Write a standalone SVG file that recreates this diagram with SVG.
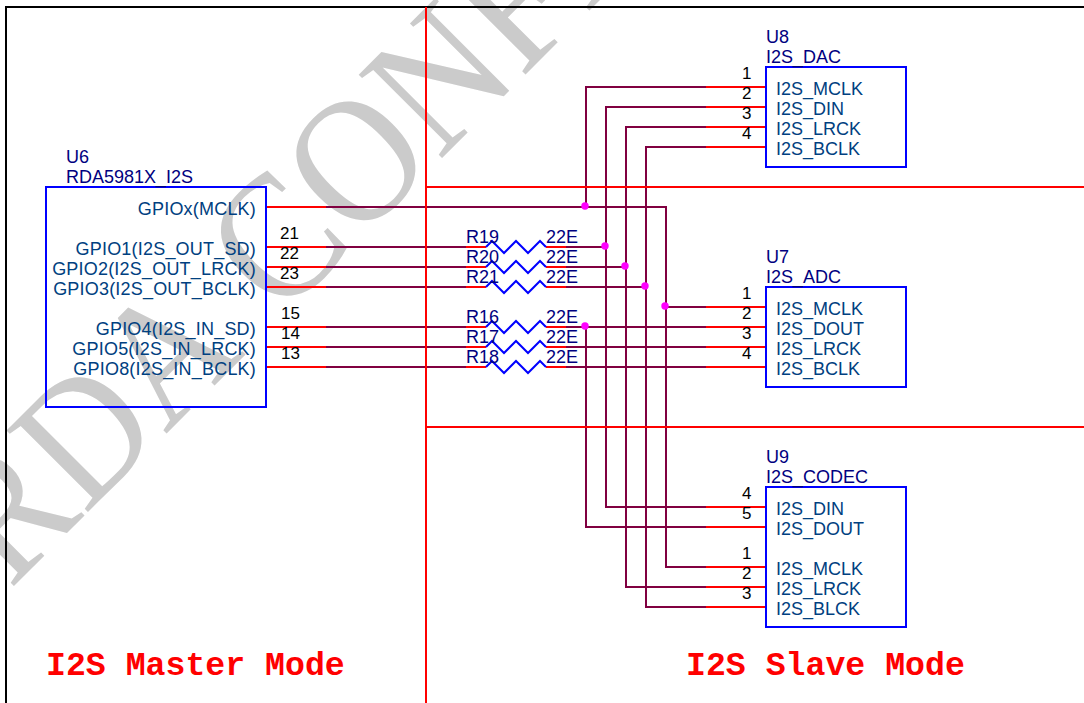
<svg xmlns="http://www.w3.org/2000/svg" width="1084" height="703" viewBox="0 0 1084 703">
<style>
text{font-family:"Liberation Sans",Arial,sans-serif;font-size:18px}
.wm{font-family:"Liberation Serif","Times New Roman",serif;font-size:176px;fill:#cbcbcb}
.title{font-family:"Liberation Mono","Courier New",monospace;font-size:33.2px;font-weight:bold;fill:#ff0000}
.ref{fill:#000080}
.pin{fill:#004080}
.u6{letter-spacing:.2px}
.num{fill:#000000;font-size:17px}
.e{text-anchor:end}
.box{fill:none;stroke:#0000ff;stroke-width:2}
.red{fill:none;stroke:#ff0000;stroke-width:2}
.net{fill:none;stroke:#800040;stroke-width:2}
.zig{fill:none;stroke:#0000ff;stroke-width:2}
.dot{fill:#ff00ff}
</style>
<rect width="1084" height="703" fill="#ffffff"/>
<text class="wm" transform="translate(10,590) rotate(-45) scale(.9,1)">RDA <tspan dx="18" font-size="180">CONFIDENTIAL</tspan></text>
<g id="connectors">
<path class="red" d="M266 207H326M266 247H326M266 267H326M266 287H326M266 327H326M266 347H326M266 367H326"/>
<path class="red" d="M466 247H486M466 267H486M466 287H486M466 327H486M466 347H486M466 367H486M546 247H566M546 267H566M546 287H566M546 327H566M546 347H566M546 367H566"/>
<path class="red" d="M706 87H766M706 107H766M706 127H766M706 147H766M706 307H766M706 327H766M706 347H766M706 367H766M706 507H766M706 527H766M706 567H766M706 587H766M706 607H766"/>
<path class="net" d="M326 207H666V567H706M666 307H706M326 247H466M326 267H466M326 287H466M326 327H466M326 347H466M326 367H466"/>
<path class="net" d="M566 247H606M566 267H626M566 287H646M566 327H706M566 347H706M566 367H706"/>
<path class="net" d="M706 87H586V207M586 327V527H706M706 107H606V507H706M706 127H626V587H706M706 147H646V607H706"/>
<g class="zig">
<path class="zig" d="M486 247L492 241L504 253L516 241L528 253L540 241L546 247"/>
<path class="zig" d="M486 267L492 261L504 273L516 261L528 273L540 261L546 267"/>
<path class="zig" d="M486 287L492 281L504 293L516 281L528 293L540 281L546 287"/>
<path class="zig" d="M486 327L492 321L504 333L516 321L528 333L540 321L546 327"/>
<path class="zig" d="M486 347L492 341L504 353L516 341L528 353L540 341L546 347"/>
<path class="zig" d="M486 367L492 361L504 373L516 361L528 373L540 361L546 367"/>
</g>
<circle class="dot" cx="585" cy="206" r="3.7"/>
<circle class="dot" cx="605" cy="246" r="3.7"/>
<circle class="dot" cx="625" cy="266" r="3.7"/>
<circle class="dot" cx="645" cy="286" r="3.7"/>
<circle class="dot" cx="665" cy="306" r="3.7"/>
<circle class="dot" cx="585" cy="326" r="3.7"/>
</g>
<g id="frame">
<path d="M6 703V7H1084" fill="none" stroke="#000" stroke-width="2"/>
<path class="red" d="M426 7V703M426 187H1084M426 427H1084"/>
</g>
<g id="U6">
<rect class="box" x="46" y="187" width="220" height="220"/>
<text class="ref" x="66" y="163">U6</text>
<text class="ref" x="66" y="183">RDA5981X_I2S</text>
<text class="pin e u6" x="256" y="215">GPIOx(MCLK)</text>
<text class="pin e u6" x="256" y="255">GPIO1(I2S_OUT_SD)</text>
<text class="pin e u6" x="256" y="275">GPIO2(I2S_OUT_LRCK)</text>
<text class="pin e u6" x="256" y="295">GPIO3(I2S_OUT_BCLK)</text>
<text class="pin e u6" x="256" y="335">GPIO4(I2S_IN_SD)</text>
<text class="pin e u6" x="256" y="355">GPIO5(I2S_IN_LRCK)</text>
<text class="pin e u6" x="256" y="375">GPIO8(I2S_IN_BCLK)</text>
<text class="num" x="280" y="239">21</text>
<text class="num" x="280" y="259">22</text>
<text class="num" x="280" y="279">23</text>
<text class="num" x="281" y="319">15</text>
<text class="num" x="281" y="339">14</text>
<text class="num" x="281" y="359">13</text>
</g>
<g id="R19"><text class="ref" x="466" y="243">R19</text><text class="ref" x="546" y="243">22E</text></g>
<g id="R20"><text class="ref" x="466" y="263">R20</text><text class="ref" x="546" y="263">22E</text></g>
<g id="R21"><text class="ref" x="466" y="283">R21</text><text class="ref" x="546" y="283">22E</text></g>
<g id="R16"><text class="ref" x="466" y="323">R16</text><text class="ref" x="546" y="323">22E</text></g>
<g id="R17"><text class="ref" x="466" y="343">R17</text><text class="ref" x="546" y="343">22E</text></g>
<g id="R18"><text class="ref" x="466" y="363">R18</text><text class="ref" x="546" y="363">22E</text></g>
<g id="U8">
<rect class="box" x="766" y="67" width="140" height="100"/>
<text class="ref" x="766" y="43">U8</text>
<text class="ref" x="766" y="63">I2S_DAC</text>
<text class="pin" x="776" y="95">I2S_MCLK</text>
<text class="pin" x="776" y="115">I2S_DIN</text>
<text class="pin" x="776" y="135">I2S_LRCK</text>
<text class="pin" x="776" y="155">I2S_BCLK</text>
<text class="num" x="742" y="79">1</text>
<text class="num" x="742" y="99">2</text>
<text class="num" x="742" y="119">3</text>
<text class="num" x="742" y="139">4</text>
</g>
<g id="U7">
<rect class="box" x="766" y="287" width="140" height="100"/>
<text class="ref" x="766" y="263">U7</text>
<text class="ref" x="766" y="283">I2S_ADC</text>
<text class="pin" x="776" y="315">I2S_MCLK</text>
<text class="pin" x="776" y="335">I2S_DOUT</text>
<text class="pin" x="776" y="355">I2S_LRCK</text>
<text class="pin" x="776" y="375">I2S_BCLK</text>
<text class="num" x="742" y="299">1</text>
<text class="num" x="742" y="319">2</text>
<text class="num" x="742" y="339">3</text>
<text class="num" x="742" y="359">4</text>
</g>
<g id="U9">
<rect class="box" x="766" y="487" width="140" height="140"/>
<text class="ref" x="766" y="463">U9</text>
<text class="ref" x="766" y="483">I2S_CODEC</text>
<text class="pin" x="776" y="515">I2S_DIN</text>
<text class="pin" x="776" y="535">I2S_DOUT</text>
<text class="pin" x="776" y="575">I2S_MCLK</text>
<text class="pin" x="776" y="595">I2S_LRCK</text>
<text class="pin" x="776" y="615">I2S_BLCK</text>
<text class="num" x="742" y="499">4</text>
<text class="num" x="742" y="519">5</text>
<text class="num" x="742" y="559">1</text>
<text class="num" x="742" y="579">2</text>
<text class="num" x="742" y="599">3</text>
</g>
<text class="title" x="46" y="675">I2S Master Mode</text>
<text class="title" x="686" y="675">I2S Slave Mode</text>
</svg>
